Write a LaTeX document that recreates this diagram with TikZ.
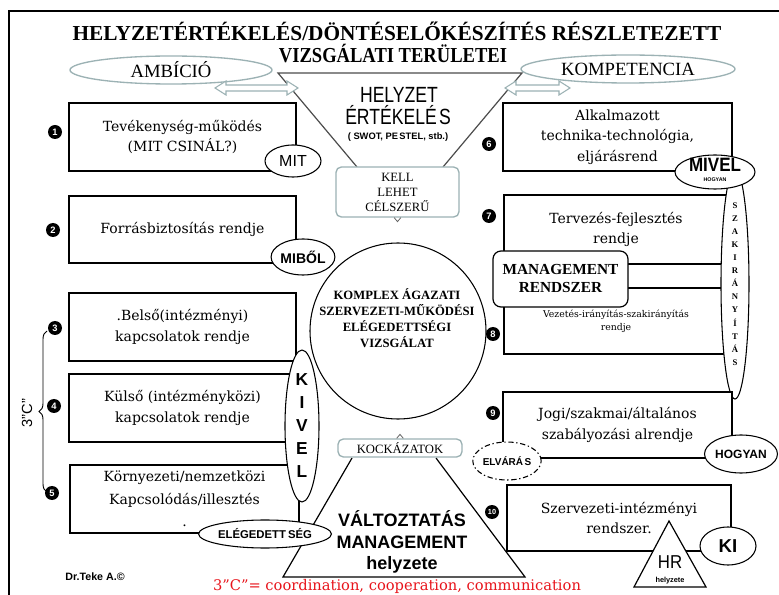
\documentclass[tikz,border=0pt]{standalone}
\usepackage{fontspec}
\setmainfont{DejaVu Serif}
\setsansfont{Liberation Sans}
\newfontfamily\tms{Liberation Serif}
\usetikzlibrary{shapes.geometric,decorations.pathreplacing}
\definecolor{lgt}{HTML}{9CB2B4}
\definecolor{redtxt}{HTML}{E8141B}
\newcommand\fsz[2]{\fontsize{#1}{#2}\selectfont}
\begin{document}
\begin{tikzpicture}[x=0.75pt,y=-0.75pt,
  bx/.style={draw=black, line width=0.9pt, fill=white, inner sep=0pt, align=center, font=\fsz{10.5}{15.5}},
  el/.style={ellipse, draw=black, line width=0.8pt, fill=white, inner sep=0pt},
  gel/.style={ellipse, draw=lgt, line width=1pt, inner sep=0pt, font=\tms\fsz{14}{16}},
  gbx/.style={draw=lgt, line width=1pt, rounded corners=4pt, fill=white, inner sep=0pt, align=center},
  num/.style={circle, fill=black, text=white, inner sep=0pt, minimum size=10.5pt, font=\sffamily\bfseries\fsz{7}{8}},
  tri/.style={line width=0.9pt, line join=miter},
  darr/.style={draw=lgt, fill=white, line width=0.8pt}
]
\useasboundingbox (0,0) rectangle (779,595);
\fill[white] (0,0) rectangle (779,595);
% frame
\draw[line width=1.6pt] (9,595) -- (9,11) -- (779,11);
% title
\node[anchor=base, font=\tms\bfseries\fsz{16}{18}] (t1) at (397,41) {HELYZETÉRTÉKELÉS/DÖNTÉSELŐKÉSZÍTÉS RÉSZLETEZETT};
\node[anchor=base, font=\tms\bfseries\fsz{16}{18}] (t2) at (393,63) {\scalebox{0.87}[1]{VIZSGÁLATI TERÜLETEI}};
% top inverted triangle
\coordinate (tl) at (278,73); \coordinate (tr) at (522,73);
\coordinate (tlb) at (357,167); \coordinate (trb) at (443,167);
\draw[tri, draw=black!70] (tlb) -- (tl) -- (tr) -- (trb);
% ambition / competence
\node[gel, minimum width=151.5pt, minimum height=21pt] (amb) at (171,70) {AMBÍCIÓ};
\node[gel, minimum width=160.5pt, minimum height=21pt] (komp) at (628,69) {KOMPETENCIA};
\draw[darr] (215,88) -- (226,81) -- (226,85) -- (287,85) -- (287,81) -- (298,88) -- (287,95) -- (287,91) -- (226,91) -- (226,95) -- cycle;
\draw[darr] (505,88) -- (516,81) -- (516,85) -- (559,85) -- (559,81) -- (570,88) -- (559,95) -- (559,91) -- (516,91) -- (516,95) -- cycle;
% helyzet ertekeles
\node[anchor=base, font=\sffamily\fsz{16.5}{18}] (h1) at (399,103) {\scalebox{0.8}[1]{HELYZET}};
\node[anchor=base, font=\sffamily\fsz{16.5}{18}] (h2) at (398,125) {\scalebox{0.8}[1]{ÉRTÉKELÉ\kern2pt S}};
\node[anchor=base, font=\sffamily\bfseries\fsz{7}{8}] (h3) at (398,140) {( SWOT, PE\kern1pt STEL, stb.)};
% kell box
\node[gbx, minimum width=92.25pt, minimum height=37.5pt, font=\tms\fsz{9.5}{11.25}] (kell) at (397.5,192) {KELL\\LEHET\\CÉLSZERŰ};
\draw[draw=black!60, line width=0.6pt] ([xshift=-2.5pt]kell.south) -- ([yshift=-3pt]kell.south) -- ([xshift=2.5pt]kell.south);
% central circle
\node[circle, draw=black, line width=0.8pt, minimum size=132pt, inner sep=0pt] (circ) at (398,331) {};
\node[font=\tms\bfseries\fsz{9.5}{12}, align=center] (circt) at (397,318) {KOMPLEX ÁGAZATI\\SZERVEZETI-MŰKÖDÉSI\\ELÉGEDETTSÉGI\\VIZSGÁLAT};
% lower triangle
\coordinate (bla) at (352,458); \coordinate (bl) at (283,577);
\coordinate (br) at (525,577); \coordinate (bra) at (436,458);
\draw[tri] (bla) -- (bl) -- (br) -- (bra);
\node[gbx, minimum width=93pt, minimum height=13.5pt, font=\tms\fsz{9.5}{11}] (kock) at (400,448) {KOCKÁZATOK};
\draw[draw=black!60, line width=0.6pt] ([xshift=-2.5pt]kock.north) -- ([yshift=3pt]kock.north) -- ([xshift=2.5pt]kock.north);
\node[anchor=base, font=\sffamily\bfseries\fsz{13.5}{15}] (v1) at (402,527) {VÁLTOZTATÁS};
\node[anchor=base, font=\sffamily\bfseries\fsz{13.5}{15}] (v2) at (402,548) {MANAGEMENT};
\node[anchor=base, font=\sffamily\bfseries\fsz{13.5}{15}] (v3) at (402,569) {helyzete};
% left boxes
\node[bx, minimum width=170.25pt, minimum height=51pt] (b1) at (182.5,137) {Tevékenység-működés\\(MIT CSINÁL?)};
\node[bx, minimum width=170.25pt, minimum height=50.25pt] (b2) at (182.5,229.5) {Forrásbiztosítás rendje};
\node[bx, minimum width=170.25pt, minimum height=51pt] (b3) at (182.5,327) {.Belső(intézményi)\\kapcsolatok rendje};
\node[bx, minimum width=170.25pt, minimum height=51pt] (b4) at (182.5,408) {Külső (intézményközi)\\kapcsolatok rendje};
\node[bx, minimum width=171.75pt, minimum height=51pt, font=\fsz{10.5}{17}] (b5) at (184.5,499) {Környezeti/nemzetközi\\Kapcsolódás/illesztés\\.};
\node[el, minimum width=42pt, minimum height=24pt, font=\sffamily\fsz{12}{14}] (mit) at (293,161) {MIT};
\node[el, minimum width=40.5pt, minimum height=27pt, font=\sffamily\bfseries\fsz{10.5}{12}] (mibol) at (303,257) {MIBŐL};
\node[el, minimum width=25.5pt, minimum height=114pt, font=\sffamily\bfseries\fsz{13}{17.25}, align=center] (kivel) at (302,426) {K\\I\\V\\E\\L};
\node[el, minimum width=93pt, minimum height=21pt, font=\sffamily\bfseries\fsz{8.5}{10}] (eleg) at (265,534) {ELÉGEDETT\kern1.5pt SÉG};
% right boxes
\node[bx, minimum width=171.75pt, minimum height=51pt, font=\fsz{10.5}{15.4}] (b6) at (617.5,137) {Alkalmazott\\technika-technológia,\\eljárásrend};
\node[bx, minimum width=168pt, minimum height=51.75pt] (b7) at (616,229.5) {Tervezés-fejlesztés\\rendje};
\node[bx, minimum width=168pt, minimum height=49.5pt, font=\fsz{7}{9.75}] (b8) at (616,321) {Vezetés-irányítás-szakirányítás\\rendje};
\node[draw, line width=0.9pt, fill=white, rounded corners=6pt, minimum width=101.25pt, minimum height=42pt, font=\tms\bfseries\fsz{11.5}{13.5}, align=center, inner sep=0pt] (mgmt) at (560.5,279) {MANAGEMENT\\RENDSZER};
\node[el, minimum width=21pt, minimum height=141pt, font=\tms\bfseries\fsz{6.5}{9.8}, align=center] (szak) at (735,284) {S\\Z\\A\\K\\I\\R\\Á\\N\\Y\\Í\\T\\Á\\S};
\node[el, minimum width=60pt, minimum height=25.5pt] (mivel) at (715,172) {};
\node[font=\sffamily\bfseries\fsz{14.5}{16}] (mivelt) at (715,165) {\scalebox{0.88}[1]{MIVEL}};
\node[font=\sffamily\bfseries\fsz{4}{5}] (mivelh) at (715,180) {HOGYAN};
\node[bx, minimum width=171.75pt, minimum height=49.5pt] (b9) at (617.5,425) {Jogi/szakmai/általános\\szabályozási alrendje};
\node[el, minimum width=51pt, minimum height=28.5pt, font=\sffamily\bfseries\fsz{9}{10}] (hogyan) at (741,454) {HOGYAN};
\node[el, dash pattern=on 4pt off 2pt on 1pt off 2pt, minimum width=51pt, minimum height=28.5pt, font=\sffamily\bfseries\fsz{7.5}{9}] (elv) at (507,461) {ELVÁRÁ\kern1pt S};
\node[bx, minimum width=168pt, minimum height=49.5pt] (b10) at (619,518) {Szervezeti-intézményi\\rendszer.};
\node[el, minimum width=42pt, minimum height=28.5pt, font=\sffamily\bfseries\fsz{14}{16}] (ki) at (728,546) {KI};
\coordinate (hra) at (669,521); \coordinate (hrl) at (634,587); \coordinate (hrr) at (706,587);
\filldraw[fill=white, draw=black, line width=0.9pt] (hra) -- (hrl) -- (hrr) -- cycle;
\node[font=\sffamily\fsz{14}{16}] (hr) at (670,562) {\scalebox{0.9}[1]{HR}};
\node[font=\sffamily\bfseries\fsz{5.5}{6}] (hrh) at (670,581) {helyzete};
% numbers
\node[num] (n1) at (55,132) {1};
\node[num] (n2) at (53,230) {2};
\node[num] (n3) at (55,328) {3};
\node[num] (n4) at (54,406) {4};
\node[num] (n5) at (52,493) {5};
\node[num] (n6) at (489,144) {6};
\node[num] (n7) at (489,216) {7};
\node[num] (n8) at (493,334) {8};
\node[num] (n9) at (493,413) {9};
\node[num, font=\sffamily\bfseries\fsz{5.5}{6}] (n10) at (492,512) {10};
% brace 3C
\coordinate (brt) at (47,331); \coordinate (brb) at (47,492);
\draw[decorate, decoration={brace, amplitude=6pt}, line width=0.7pt] (brb) -- (brt);
\node[rotate=90, font=\sffamily\fsz{11}{12}] (c3) at (27,413) {3"C"};
% footer
\node[font=\sffamily\bfseries\fsz{8}{9}] (dr) at (95,577) {Dr.Teke A.©};
\node[font=\fsz{11}{12}, text=redtxt] (red) at (397,586) {3”C”= coordination, cooperation, communication};
\end{tikzpicture}
\end{document}
